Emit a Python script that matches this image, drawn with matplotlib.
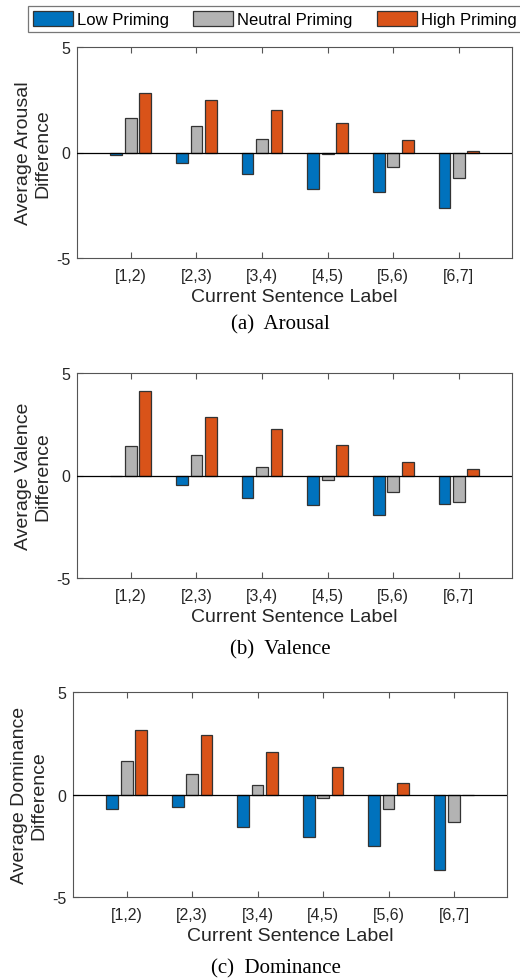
import numpy as np
import matplotlib
matplotlib.use('Agg')
import matplotlib.pyplot as plt
from matplotlib.transforms import ScaledTranslation

plt.rcParams['axes.unicode_minus'] = False

bins = ['[1,2)', '[2,3)', '[3,4)', '[4,5)', '[5,6)', '[6,7]']
series_names = ['Low Priming', 'Neutral Priming', 'High Priming']
colors = ['#0072BD', '#B3B3B3', '#D95319']

# values
arousal_low = [-0.14, -0.52, -1.04, -1.72, -1.88, -2.65]
arousal_neutral = [1.62, 1.26, 0.65, -0.05, -0.68, -1.23]
arousal_high = [2.81, 2.49, 2.03, 1.39, 0.57, 0.05]

valence_low = [-0.02, -0.47, -1.11, -1.42, -1.91, -1.37]
valence_neutral = [1.43, 0.98, 0.42, -0.20, -0.80, -1.30]
valence_high = [4.10, 2.83, 2.25, 1.48, 0.65, 0.31]

dominance_low = [-0.73, -0.59, -1.58, -2.09, -2.51, -3.67]
dominance_neutral = [1.62, 1.01, 0.47, -0.15, -0.72, -1.35]
dominance_high = [3.17, 2.92, 2.06, 1.35, 0.57, -0.03]

panels = [
    ('Arousal', '(a)', [arousal_low, arousal_neutral, arousal_high]),
    ('Valence', '(b)', [valence_low, valence_neutral, valence_high]),
    ('Dominance', '(c)', [dominance_low, dominance_neutral, dominance_high]),
]

W, H = 520, 979
fig = plt.figure(figsize=(W / 100, H / 100), dpi=100)

# axes boxes in pixels: left, top, right, bottom
boxes = [(77, 48, 512, 259), (77, 374, 512, 579), (73, 693, 507, 898)]
captions = [(280, 325), (280, 650), (276, 969)]

sans = ['Liberation Sans', 'DejaVu Sans']
serif = ['Liberation Serif', 'DejaVu Serif']
axis_col = '#555555'
text_col = '#262626'

x = np.arange(1, len(bins) + 1)
bw = 0.18
step = 0.22

handles = []
for k, (name, tag, vals) in enumerate(panels):
    l, t, r, b = boxes[k]
    ax = fig.add_axes([l / W, 1 - b / H, (r - l) / W, (b - t) / H])
    for j, v in enumerate(vals):
        bars = ax.bar(x + (j - 1) * step, v, width=bw, color=colors[j],
                      edgecolor='#333333', linewidth=0.9, zorder=2)
        if k == 0:
            handles.append(bars)
    ax.axhline(0, color='black', linewidth=0.9, zorder=3)
    ax.set_xlim(0.18, 6.81)
    ax.set_ylim(-5, 5)
    ax.set_yticks([-5, 0, 5])
    ax.set_xticks(x)
    ax.set_xticklabels(bins, family=sans, fontsize=11.5, color=text_col)
    for lab in ax.get_xticklabels():
        lab.set_transform(lab.get_transform() + ScaledTranslation(-3 / 100, 0, fig.dpi_scale_trans))
    for lab in ax.get_yticklabels():
        lab.set_family(sans)
        lab.set_fontsize(11.5)
        lab.set_color(text_col)
    ax.tick_params(direction='in', length=4, width=0.8, color=axis_col,
                   top=True, right=True, pad=7)
    ax.tick_params(axis='y', right=False, pad=5)
    for s in ax.spines.values():
        s.set_color(axis_col)
        s.set_linewidth(0.8)
    ax.set_xlabel('Current Sentence Label', family=sans, fontsize=14,
                  color=text_col, labelpad=4)
    ax.set_ylabel('Average %s\nDifference' % name, family=sans, fontsize=14,
                  color=text_col, labelpad=3, linespacing=1.2)
    cx, cy = captions[k]
    fig.text(cx / W, 1 - cy / H, tag + '  ' + name,
             family=serif, fontsize=15, ha='center', va='center', color='black')

leg = fig.legend(handles, series_names, loc='upper left',
                 bbox_to_anchor=(28 / W, 1 - 7 / H), ncol=3,
                 prop={'family': sans, 'size': 12}, frameon=True, fancybox=False,
                 edgecolor='#777777', framealpha=1, borderaxespad=0,
                 borderpad=0.3, handlelength=2.4, handleheight=1.0,
                 handletextpad=0.25, columnspacing=1.45)
leg.get_frame().set_linewidth(0.9)
for txt in leg.get_texts():
    txt.set_color('black')

fig.savefig('out.png', dpi=100)
